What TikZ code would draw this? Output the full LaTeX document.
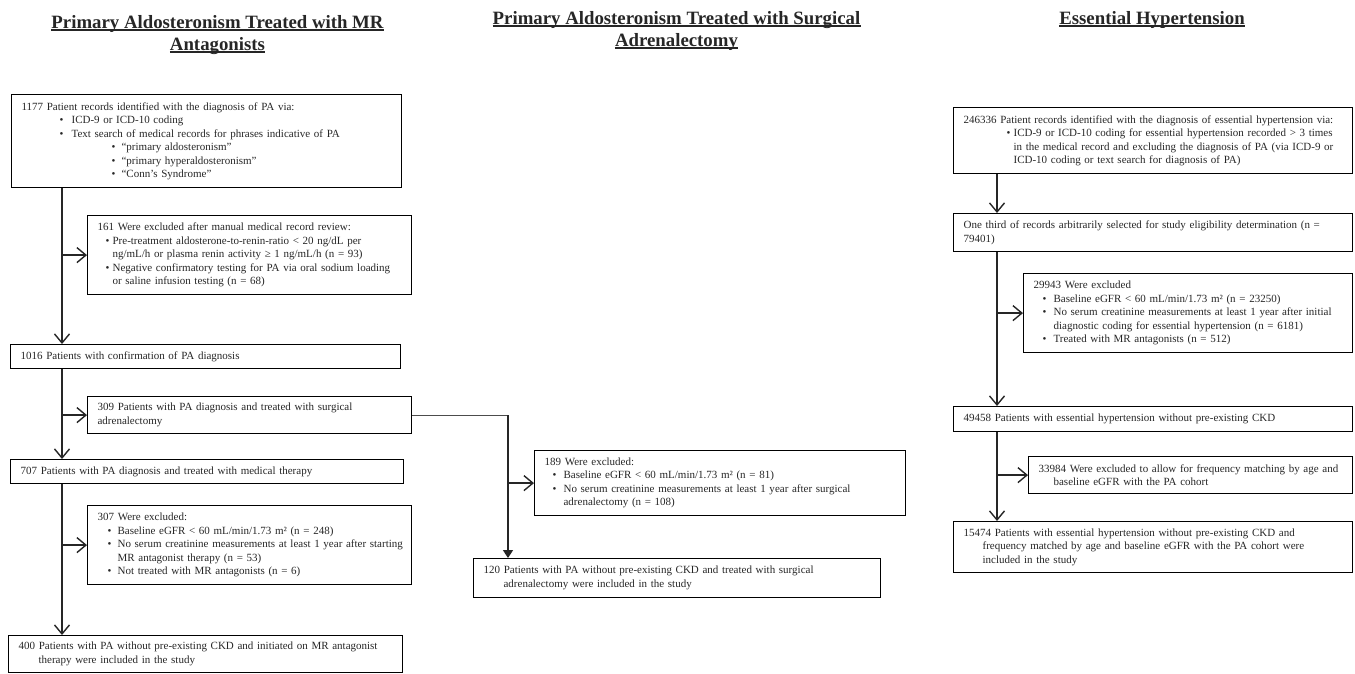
\documentclass[tikz,border=0pt]{standalone}
\usepackage{fontspec}
\setmainfont{Liberation Serif}
\usetikzlibrary{arrows.meta}
\newcommand\bitem[2]{\hspace*{#1}\makebox[\dimexpr#2-#1\relax][l]{\textbullet}}
\newcommand\cont[1]{\hspace*{#1}}
\begin{document}
\begin{tikzpicture}[x=1pt,y=-1pt,
  box/.style={draw, line width=1.2pt, anchor=north west, inner xsep=10pt, inner ysep=0pt,
    align=left, font=\fontsize{11}{13.5}\selectfont, text=black!85},
  title/.style={inner sep=0pt, anchor=base, font=\bfseries\fontsize{18.8}{22}\selectfont, text=black!85},
  ul/.style={line width=1.1pt, black!85},
  trunk/.style={line width=1.6pt, black!85},
  thinl/.style={line width=0.9pt, black!70},
  arr/.style={-{Straight Barb[length=9pt,width=15pt,line width=1.4pt]}},
  farr/.style={-{Triangle[length=8pt,width=10pt]}}]
\useasboundingbox (0,0) rectangle (1355,673);

% titles
\node[title] (tl1) at (217.5,28) {Primary Aldosteronism Treated with MR};
\node[title] (tl2) at (217.5,50) {Antagonists};
\node[title] (tm1) at (676.5,24) {Primary Aldosteronism Treated with Surgical};
\node[title] (tm2) at (676.5,46) {Adrenalectomy};
\node[title] (tr1) at (1152,24) {Essential Hypertension};
\foreach \t in {tl1,tl2,tm1,tm2,tr1}
  \draw[ul] ([yshift=-2pt]\t.base west) -- ([yshift=-2pt]\t.base east);

% trunk x positions
\coordinate (tL) at (62,0);
\coordinate (tM) at (508,0);
\coordinate (tR) at (997,0);

% left column
\node[box, text width=370pt, minimum width=390pt, minimum height=93pt] (b1) at (11,94) {
1177 Patient records identified with the diagnosis of PA via:\\
\bitem{38pt}{50pt}ICD-9 or ICD-10 coding\\
\bitem{38pt}{50pt}Text search of medical records for phrases indicative of PA\\
\bitem{90pt}{100pt}“primary aldosteronism”\\
\bitem{90pt}{100pt}“primary hyperaldosteronism”\\
\bitem{90pt}{100pt}“Conn’s Syndrome”};

\node[box, text width=304pt, minimum width=324pt, minimum height=79pt] (b161) at (87,215) {
161 Were excluded after manual medical record review:\\
\bitem{8pt}{15pt}Pre-treatment aldosterone-to-renin-ratio < 20 ng/dL per\\
\cont{15pt}ng/mL/h or plasma renin activity ≥ 1 ng/mL/h (n = 93)\\
\bitem{8pt}{15pt}\mbox{Negative confirmatory testing for PA via oral sodium loading}\\
\cont{15pt}or saline infusion testing (n = 68)};

\node[box, text width=370pt, minimum width=390pt, minimum height=24pt] (b1016) at (10,344) {
1016 Patients with confirmation of PA diagnosis};

\node[box, text width=304pt, minimum width=324pt, minimum height=37pt] (b309) at (87,396) {
309 Patients with PA diagnosis and treated with surgical\\
adrenalectomy};

\node[box, text width=373pt, minimum width=393pt, minimum height=24pt] (b707) at (10,459) {
707 Patients with PA diagnosis and treated with medical therapy};

\node[box, text width=304pt, minimum width=324pt, minimum height=79pt] (b307) at (87,505) {
307 Were excluded:\\
\bitem{10pt}{20pt}Baseline eGFR < 60 mL/min/1.73 m² (n = 248)\\
\bitem{10pt}{20pt}\mbox{No serum creatinine measurements at least 1 year after starting}\\
\cont{20pt}MR antagonist therapy (n = 53)\\
\bitem{10pt}{20pt}Not treated with MR antagonists (n = 6)};

\node[box, text width=374pt, minimum width=394pt, minimum height=37pt] (b400) at (8,635) {
400 Patients with PA without pre-existing CKD and initiated on MR antagonist\\
\cont{20pt}therapy were included in the study};

% middle column
\node[box, text width=351pt, minimum width=371pt, minimum height=65pt] (b189) at (534,450) {
189 Were excluded:\\
\bitem{8pt}{19pt}Baseline eGFR < 60 mL/min/1.73 m² (n = 81)\\
\bitem{8pt}{19pt}\mbox{No serum creatinine measurements at least 1 year after surgical}\\
\cont{19pt}adrenalectomy (n = 108)};

\node[box, text width=387pt, minimum width=407pt, minimum height=39pt] (b120) at (473,558) {
120 Patients with PA without pre-existing CKD and treated with surgical\\
\cont{20pt}adrenalectomy were included in the study};

% right column
\node[box, text width=379pt, minimum width=399pt, minimum height=66pt] (b246) at (953,107) {
\mbox{246336 Patient records identified with the diagnosis of essential hypertension via:}\\
\bitem{43pt}{50pt}\mbox{ICD-9 or ICD-10 coding for essential hypertension recorded > 3 times}\\
\cont{50pt}\mbox{in the medical record and excluding the diagnosis of PA (via ICD-9 or}\\
\cont{50pt}ICD-10 coding or text search for diagnosis of PA)};

\node[box, text width=379pt, minimum width=399pt, minimum height=38pt] (bthird) at (953,213) {
\mbox{One third of records arbitrarily selected for study eligibility determination (n =}\\
79401)};

\node[box, text width=309pt, minimum width=329pt, minimum height=79pt] (b29943) at (1023,273) {
29943 Were excluded\\
\bitem{9pt}{20pt}Baseline eGFR < 60 mL/min/1.73 m² (n = 23250)\\
\bitem{9pt}{20pt}\mbox{No serum creatinine measurements at least 1 year after initial}\\
\cont{20pt}diagnostic coding for essential hypertension (n = 6181)\\
\bitem{9pt}{20pt}Treated with MR antagonists (n = 512)};

\node[box, text width=379pt, minimum width=399pt, minimum height=25pt] (b49458) at (953,406) {
49458 Patients with essential hypertension without pre-existing CKD};

\node[box, text width=304pt, minimum width=324pt, minimum height=37pt] (b33984) at (1028,456) {
\mbox{33984 Were excluded to allow for frequency matching by age and}\\
\cont{15pt}baseline eGFR with the PA cohort};

\node[box, text width=379pt, minimum width=399pt, minimum height=51pt] (b15474) at (953,521) {
\mbox{15474 Patients with essential hypertension without pre-existing CKD and}\\
\cont{19pt}\mbox{frequency matched by age and baseline eGFR with the PA cohort were}\\
\cont{19pt}included in the study};

% left connectors
\draw[trunk,arr] (b1.south -| tL) -- (b1016.north -| tL);
\draw[trunk,arr] (b161.west -| tL) -- (b161.west);
\draw[trunk,arr] (b1016.south -| tL) -- (b707.north -| tL);
\draw[trunk,arr] (b309.west -| tL) -- (b309.west);
\draw[trunk,arr] (b707.south -| tL) -- (b400.north -| tL);
\draw[trunk,arr] (b307.west -| tL) -- (b307.west);

% middle connectors
\draw[thinl] (b309.east) -- (b309.east -| tM);
\draw[trunk,farr] (b309.east -| tM) -- (b120.north -| tM);
\draw[trunk,arr] (b189.west -| tM) -- (b189.west);

% right connectors
\draw[trunk,arr] (b246.south -| tR) -- (bthird.north -| tR);
\draw[trunk,arr] (bthird.south -| tR) -- (b49458.north -| tR);
\draw[trunk,arr] (b29943.west -| tR) -- (b29943.west);
\draw[trunk,arr] (b49458.south -| tR) -- (b15474.north -| tR);
\draw[trunk,arr] (b33984.west -| tR) -- (b33984.west);
\end{tikzpicture}
\end{document}
